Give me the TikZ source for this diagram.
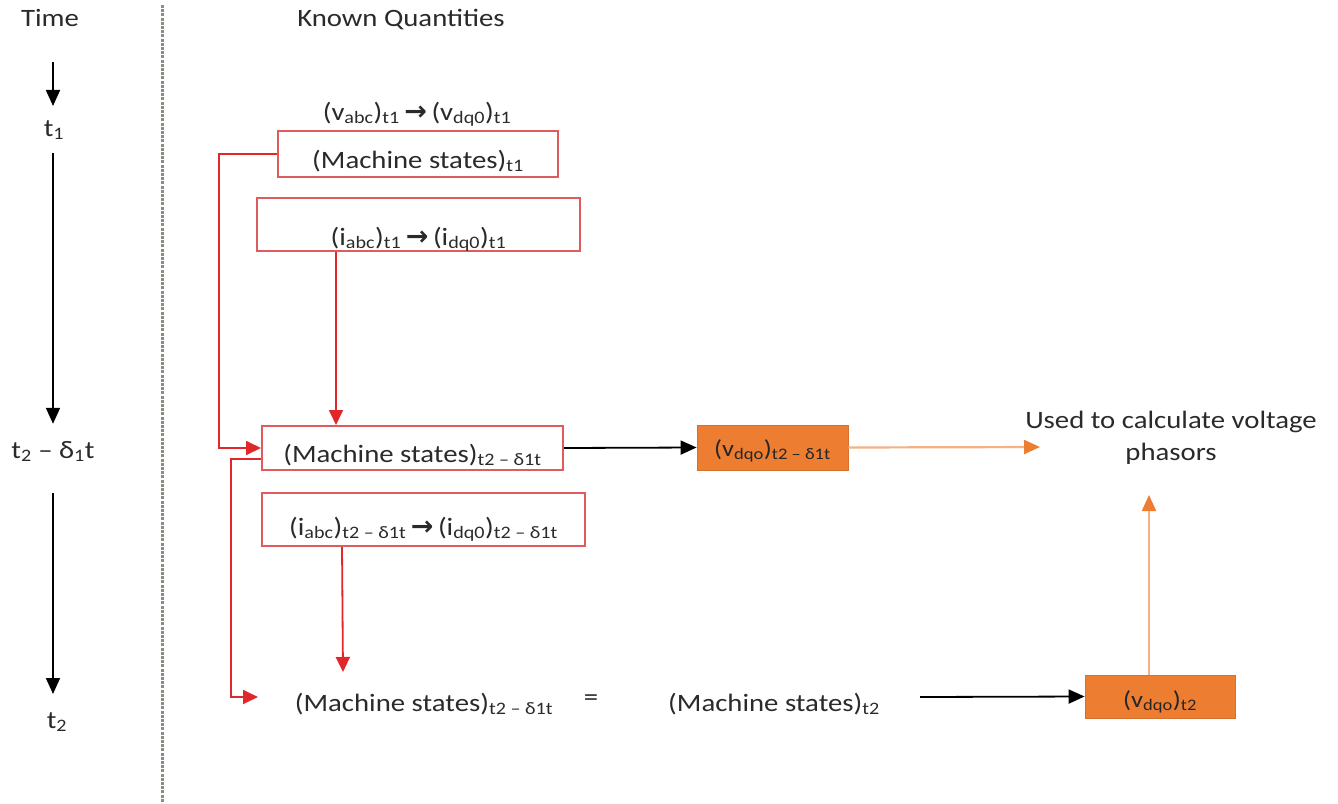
\documentclass[tikz,border=0pt]{standalone}
\usepackage{fontspec}
\setmainfont{Carlito}[FakeStretch=1.15]
\newfontfamily\arrowfont{DejaVu Sans}
\usetikzlibrary{arrows.meta}
\definecolor{boxred}{HTML}{E05C5C}
\definecolor{linered}{HTML}{E0282A}
\definecolor{orfill}{HTML}{ED7D31}
\definecolor{tanline}{HTML}{F4B183}
\definecolor{txt}{HTML}{2A2A2A}
\definecolor{dashgray}{HTML}{8C8C80}
\newcommand\lo[1]{\textsubscript{#1}}
\newcommand\ar{{\arrowfont\bfseries\fontsize{27}{30}\selectfont\,→\,}}
\begin{document}
\begin{tikzpicture}[x=1pt,y=-1pt,
  every node/.style={font=\fontsize{25}{32}\selectfont, text=txt},
  rbox/.style={draw=boxred, line width=2pt, inner xsep=0pt, inner ysep=0pt},
  obox/.style={draw=orfill!90!black, fill=orfill, line width=0.8pt, inner sep=0pt,
     font=\fontsize{23}{26}\selectfont, text=black!85},
  rline/.style={draw=linered, line width=1.8pt},
  rarrow/.style={rline, -{Triangle[length=15pt,width=14pt]}},
  barrow/.style={draw=black, line width=1.8pt, -{Triangle[length=16pt,width=14pt]}},
  tarrow/.style={draw=tanline, line width=2.2pt, -{Triangle[length=16pt,width=14pt,color=orfill]}},
  tlabel/.style={anchor=base, inner sep=0pt},
  ]
\useasboundingbox (0,0) rectangle (1338,803);

% headers
\node[tlabel] (time) at (50,27) {Time};
\node[tlabel] (known) at (401,27) {Known Quantities};
\draw[dashgray, line width=3pt, dash pattern=on 3pt off 1.2pt] (162,5) -- (162,803);

% time axis
\coordinate (ta) at (53,62);
\node[tlabel] (t1) at (54,136) {t\lo{1}};
\node[tlabel] (t2d) at (53,458) {t\lo{2} – δ\lo{1}t};
\node[tlabel] (t2) at (57,728) {t\lo{2}};
\draw[barrow] (ta) -- ([xshift=-1pt,yshift=14pt]t1.north);
\draw[barrow] ([xshift=-1pt,yshift=-13pt]t1.south) -- ([yshift=17pt]t2d.north);
\draw[barrow] ([yshift=-31pt]t2d.south) -- ([xshift=-4pt,yshift=18pt]t2.north);

% boxes
\node[tlabel] (vt1) at (417,120) {(v\lo{abc})\lo{t1}\ar(v\lo{dq0})\lo{t1}};
\node[rbox, minimum width=280pt, minimum height=46pt, text height=37pt, text depth=9pt] (ms1) at (418,154) {(Machine states)\lo{t1}};
\node[rbox, minimum width=323pt, minimum height=53pt, text height=47pt, text depth=6pt] (ib1) at (418.5,224.5) {(i\lo{abc})\lo{t1}\ar(i\lo{dq0})\lo{t1}};
\node[rbox, minimum width=301pt, minimum height=44pt, text height=36pt, text depth=8pt] (ms3) at (412.5,448) {(Machine states)\lo{t2 – δ1t}};
\node[rbox, minimum width=323pt, minimum height=53pt, text height=42pt, text depth=11pt] (ib2) at (423.5,519.5) {(i\lo{abc})\lo{t2 – δ1t}\ar(i\lo{dq0})\lo{t2 – δ1t}};

\node[obox, minimum width=151pt, minimum height=45pt, text height=31pt, text depth=14pt] (o1) at (772.5,447.5) {(v\lo{dqo})\lo{t2 – δ1t}};
\node[obox, minimum width=150pt, minimum height=43pt, text height=32pt, text depth=11pt] (o2) at (1160,696.5) {(v\lo{dqo})\lo{t2}};

\node[anchor=north, inner sep=0pt, align=center] (used) at (1171,411) {Used to calculate voltage\\phasors};

\node[tlabel] (msA) at (424,711) {(Machine states)\lo{t2 – δ1t}};
\node[tlabel] (eq) at (591,705) {=};
\node[tlabel] (msB) at (774,711) {(Machine states)\lo{t2}};

% connectors
\coordinate (e1) at (258,697);
\coordinate (e2) at (343,672);
\coordinate (uin) at (1040,447);
\coordinate (uup) at (1149,495);
\coordinate (c1) at (920,697);

\draw[rarrow] (ms1.west) -- ++(-58,0) |- (ms3.west);
\draw[rarrow] ([xshift=80pt]ib1.south west) -- ([xshift=75pt]ms3.north west);
\draw[barrow] (ms3.east) -- (o1.west);
\draw[tarrow] (o1.east) -- (uin);
\draw[rarrow] ([yshift=-11pt]ms3.west) -- ++(-30,0) |- (e1);
\draw[rarrow] ([xshift=81pt]ib2.south west) -- (e2);
\draw[barrow] (c1) -- (o2.west);
\draw[tarrow] ([xshift=-11pt]o2.north) -- (uup);
\end{tikzpicture}
\end{document}
